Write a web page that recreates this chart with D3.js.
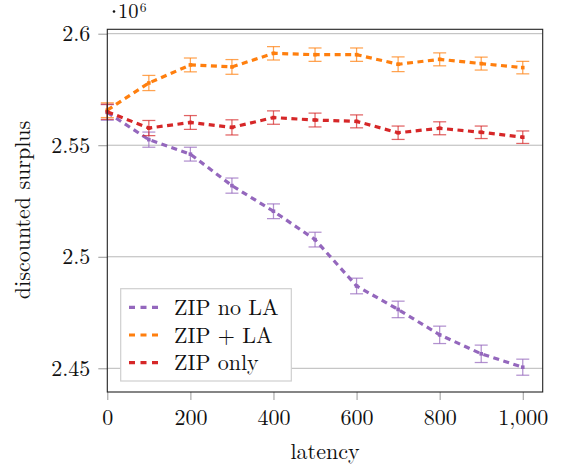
<!DOCTYPE html>
<html><head><meta charset="utf-8">
<script src="https://cdn.jsdelivr.net/npm/d3@7"></script>
<style>
html,body{margin:0;padding:0;background:#fff;}
</style></head>
<body><svg id="c" width="561" height="466"></svg>
<script>
// latency values (x)
const latency = [0,100,200,300,400,500,600,700,800,900,1000];
// discounted surplus, in units of 10^6
const zipNoLA  = [2.5647,2.5525,2.5460,2.5319,2.5204,2.5077,2.4869,2.4764,2.4650,2.4565,2.4505];
const zipNoLAErr = [0.0035,0.0034,0.0031,0.0034,0.0033,0.0033,0.0035,0.0037,0.0039,0.0039,0.0036];
const zipLA    = [2.5657,2.5779,2.5860,2.5851,2.5912,2.5906,2.5906,2.5863,2.5885,2.5866,2.5848];
const zipLAErr = [0.0033,0.0034,0.0031,0.0033,0.0030,0.0030,0.0030,0.0033,0.0029,0.0029,0.0028];
const zipOnly  = [2.5650,2.5577,2.5602,2.5580,2.5624,2.5613,2.5607,2.5556,2.5576,2.5558,2.5536];
const zipOnlyErr = [0.0034,0.0034,0.0031,0.0034,0.0030,0.0031,0.0029,0.0030,0.0029,0.0028,0.0028];
const seriesNames = ["ZIP no LA","ZIP + LA","ZIP only"];
const seriesColors = ["#9467bd","#ff7f0e","#d62728"];
const xTicks = [0,200,400,600,800,1000];
const yTicks = [2.45,2.5,2.55,2.6];

const FONT = "'Latin Modern Roman'";

const series = [
  {name:seriesNames[0], color:seriesColors[0], v:zipNoLA, e:zipNoLAErr},
  {name:seriesNames[1], color:seriesColors[1], v:zipLA, e:zipLAErr},
  {name:seriesNames[2], color:seriesColors[2], v:zipOnly, e:zipOnlyErr}
];

const L=107.3, R=542.7, T=29.3, B=392;
const svg=d3.select("#c");
const x=d3.scaleLinear().domain([0,1048]).range([L,R]);
const y=d3.scaleLinear().domain([2.43938,2.60197]).range([B,T]);

// grid
svg.append("g").selectAll("line").data(yTicks).join("line")
  .attr("x1",L).attr("x2",R).attr("y1",d=>y(d)).attr("y2",d=>y(d))
  .attr("stroke","#b8b8b8").attr("stroke-width",1);

// axes
const fmtX=d3.format(",");
const xAxis=svg.append("g").attr("transform",`translate(0,${B})`)
  .call(d3.axisBottom(x).tickValues(xTicks).tickFormat(fmtX).tickSize(8).tickPadding(9));
const yAxis=svg.append("g").attr("transform",`translate(${L},0)`)
  .call(d3.axisLeft(y).tickValues(yTicks).tickFormat(d=>String(+d.toFixed(2))).tickSize(9).tickPadding(8));
[xAxis,yAxis].forEach(a=>{
  a.attr("font-family",null).attr("font-size",null);
  a.select(".domain").remove();
  a.selectAll(".tick line").attr("stroke","#999");
  a.selectAll(".tick text").style("font-family",FONT).style("font-size","22px").attr("fill","#111");
});
xAxis.selectAll(".tick text").attr("dy","0.71em");

// series
const line=d3.line().x((d,i)=>x(latency[i])).y(d=>y(d));
series.forEach(s=>{
  const g=svg.append("g");
  const eb=g.append("g").attr("stroke",s.color).attr("stroke-opacity",0.72).attr("stroke-width",1.25);
  s.v.forEach((v,i)=>{
    const cx=x(latency[i]), y1=y(v+s.e[i]), y2=y(v-s.e[i]);
    eb.append("line").attr("x1",cx).attr("x2",cx).attr("y1",y1).attr("y2",y2);
    eb.append("line").attr("x1",cx-6.5).attr("x2",cx+6.5).attr("y1",y1).attr("y2",y1);
    eb.append("line").attr("x1",cx-6.5).attr("x2",cx+6.5).attr("y1",y2).attr("y2",y2);
  });
  g.append("path").attr("d",line(s.v)).attr("fill","none").attr("stroke",s.color)
    .attr("stroke-width",3.2).attr("stroke-dasharray","6,4.5");
  g.selectAll("rect").data(s.v).join("rect")
    .attr("x",(d,i)=>x(latency[i])-1.8).attr("y",d=>y(d)-1.8).attr("width",3.6).attr("height",3.6)
    .attr("fill",s.color);
});

// frame
svg.append("rect").attr("x",L).attr("y",T).attr("width",R-L).attr("height",B-T)
  .attr("fill","none").attr("stroke","#222").attr("stroke-width",1.1);

// legend
const lg=svg.append("g");
lg.append("rect").attr("x",120.7).attr("y",288.7).attr("width",170.6).attr("height",92.3)
  .attr("fill","#fff").attr("stroke","#cfcfcf").attr("stroke-width",1.2);
series.forEach((s,i)=>{
  const yy=307.3+i*27.7;
  lg.append("line").attr("x1",129).attr("x2",163).attr("y1",yy).attr("y2",yy)
    .attr("stroke",s.color).attr("stroke-width",3.2).attr("stroke-dasharray","6,5.5");
  lg.append("text").attr("x",174).attr("y",yy+7.5).style("font-family",FONT).style("font-size","22px").attr("fill","#111").text(s.name);
});

// axis labels
svg.append("text").attr("x",(L+R)/2).attr("y",459).attr("text-anchor","middle").style("font-family",FONT).style("font-size","22px").attr("fill","#111").text("latency");
svg.append("text").attr("transform","translate(30,210) rotate(-90)").attr("text-anchor","middle").style("font-family",FONT).style("font-size","22px").attr("fill","#111").text("discounted surplus");
// axis scale label ·10^6
svg.append("circle").attr("cx",114).attr("cy",11.5).attr("r",1.3).attr("fill","#111");
svg.append("text").attr("x",118).attr("y",17.8)
  .style("font-family",FONT).style("font-size","20.5px").attr("fill","#111").text("10");
svg.append("text").attr("x",139.8).attr("y",11.5).style("font-family",FONT).style("font-size","13.5px").attr("fill","#111").text("6");
</script></body></html>
